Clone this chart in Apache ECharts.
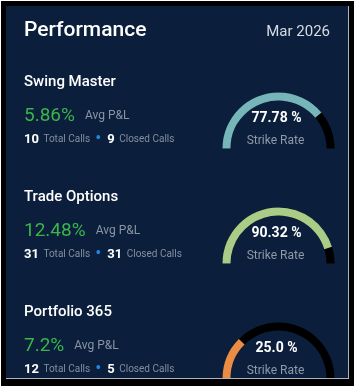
<!DOCTYPE html>
<html>
<head>
<meta charset="utf-8">
<script src="https://cdn.jsdelivr.net/npm/echarts@6/dist/echarts.min.js"></script>
<style>
html,body{margin:0;padding:0;background:#ffffff;}
#chart{width:357px;height:388px;}
</style>
</head>
<body>
<div id="chart"></div>
<script>
// ---- data ----
const headerTitle = 'Performance';
const headerPeriod = 'Mar 2026';
const names = ['Swing Master', 'Trade Options', 'Portfolio 365'];
const avgPnl = [5.86, 12.48, 7.2];
const totalCalls = [10, 31, 12];
const closedCalls = [9, 31, 5];
const strikeRate = [77.78, 90.32, 25.0];
const pnlLabel = 'Avg P&L';
const totalLabel = 'Total Calls';
const closedLabel = 'Closed Calls';
const strikeLabel = 'Strike Rate';

// ---- style ----
const gaugeColors = ['#76b5ba', '#a9cc86', '#e88c46'];
const NAVY = '#0b1f3c';
const FONT = 'Roboto';
const STEP = 115;

const chart = echarts.init(document.getElementById('chart'), null, {renderer: 'canvas'});

const graphics = [
  {type: 'rect', z: 0, shape: {x: 6, y: 6, width: 342, height: 372}, style: {fill: NAVY}},
  // frame (drawn on top)
  {type: 'rect', z: 50, shape: {x: 348, y: 6, width: 1, height: 373}, style: {fill: '#aeb3ba'}},
  {type: 'rect', z: 50, shape: {x: 6, y: 378, width: 343, height: 1}, style: {fill: '#aeb3ba'}},
  {type: 'rect', z: 50, shape: {x: 1, y: 1, width: 353, height: 5}, style: {fill: '#000'}},
  {type: 'rect', z: 50, shape: {x: 1, y: 1, width: 5, height: 385}, style: {fill: '#000'}},
  {type: 'rect', z: 50, shape: {x: 349, y: 1, width: 5, height: 385}, style: {fill: '#000'}},
  {type: 'rect', z: 50, shape: {x: 1, y: 379, width: 353, height: 7}, style: {fill: '#000'}},
  {type: 'text', z: 10, x: 24, y: 31, style: {text: headerTitle, fill: '#ffffff', font: '500 21px ' + FONT, align: 'left', verticalAlign: 'middle'}},
  {type: 'text', z: 10, x: 330, y: 32, style: {text: headerPeriod, fill: '#d6dbe2', font: '400 15px ' + FONT, align: 'right', verticalAlign: 'middle'}}
];

const series = [];
names.forEach((name, i) => {
  const off = i * STEP;
  graphics.push({type: 'text', z: 10, x: 24, y: 82 + off, style: {text: name, fill: '#ffffff', font: '500 15px ' + FONT, align: 'left', verticalAlign: 'middle'}});
  graphics.push({type: 'text', z: 10, x: 24, y: 116 + off, style: {
    text: '{p|' + avgPnl[i] + '%}{l|' + pnlLabel + '}',
    align: 'left', verticalAlign: 'middle',
    rich: {
      p: {fontFamily: FONT, fontSize: 19, fill: '#39b54a'},
      l: {fontFamily: FONT, fontSize: 12, fill: '#8a94a3', padding: [0, 0, 0, 10]}
    }
  }});
  graphics.push({type: 'text', z: 10, x: 24, y: 139.5 + off, style: {
    text: '{n|' + totalCalls[i] + '}{t|' + totalLabel + '}{d|\u2022}{n|' + closedCalls[i] + '}{t|' + closedLabel + '}',
    align: 'left', verticalAlign: 'middle',
    rich: {
      n: {fontFamily: FONT, fontSize: 13, fontWeight: 'bold', fill: '#ffffff'},
      t: {fontFamily: FONT, fontSize: 10, fill: '#848e9d', padding: [0, 0, 0, 4.5]},
      d: {fontFamily: FONT, fontSize: 18, fill: '#1e88e5', padding: [0, 6, 0, 5]}
    }
  }});
  series.push({
    type: 'gauge',
    center: [278.5, 148.5 + off],
    radius: 56,
    startAngle: 180,
    endAngle: 0,
    min: 0,
    max: 100,
    z: 5,
    axisLine: {lineStyle: {width: 8, color: [[1, '#000000']]}},
    progress: {show: true, width: 8, roundCap: false, itemStyle: {color: gaugeColors[i]}},
    pointer: {show: false},
    anchor: {show: false},
    axisTick: {show: false},
    splitLine: {show: false},
    axisLabel: {show: false},
    title: {offsetCenter: [-3, -7.5], color: '#8f99a8', fontSize: 12, fontFamily: FONT},
    detail: {
      offsetCenter: [-2, -30.5], color: '#ffffff', fontSize: 14, fontWeight: 'bold', fontFamily: FONT,
      formatter: v => (Number.isInteger(v) ? v.toFixed(1) : String(v)) + ' %'
    },
    data: [{value: strikeRate[i], name: strikeLabel}]
  });
});

chart.setOption({
  animation: false,
  backgroundColor: '#ffffff',
  graphic: graphics,
  series: series
});
</script>
</body>
</html>
